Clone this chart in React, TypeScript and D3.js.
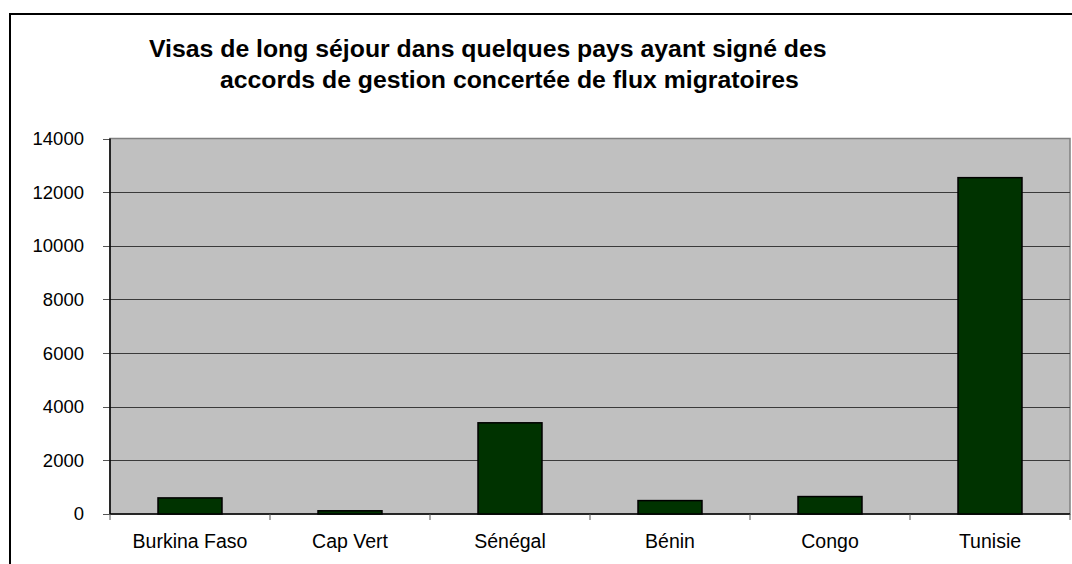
import React from "react";
import * as d3 from "d3";

const categories = ["Burkina Faso", "Cap Vert", "Sénégal", "Bénin", "Congo", "Tunisie"];
const values = [600, 120, 3400, 500, 650, 12540];
const yTicks = [0, 2000, 4000, 6000, 8000, 10000, 12000, 14000];
const titleLines = [
  "Visas de long séjour dans quelques pays ayant signé des",
  "accords de gestion concertée de flux migratoires",
];

export default function App() {
  const W = 1072, H = 564;
  const left = 110, right = 1070, top = 138.5, bottom = 514;
  const x = d3.scaleBand<string>().domain(categories).range([left, right]).paddingInner(0.6).paddingOuter(0.3);
  const y = d3.scaleLinear().domain([0, 14000]).range([bottom, top]);
  const step = x.step();
  const font = "'Liberation Sans', Arial, sans-serif";
  return (
    <svg width={W} height={H} style={{ position: "absolute", left: 0, top: 0, background: "#fff" }}>
      <rect x={10} y={14} width={1100} height={700} fill="#fff" stroke="#000" strokeWidth={2} />
      <text fontFamily={font} fontWeight="bold" fontSize={24.8} fill="#000">
        <tspan x={149} y={57}>{titleLines[0]}</tspan>
        <tspan x={220} y={88}>{titleLines[1]}</tspan>
      </text>
      <rect x={left} y={top} width={right - left} height={bottom - top} fill="#c0c0c0" stroke="#808080" strokeWidth={1.5} />
      {yTicks.map((t) => (
        <g key={t}>
          {t > 0 && t < 14000 && (
            <line x1={left} x2={right} y1={Math.round(y(t)) + 0.5} y2={Math.round(y(t)) + 0.5} stroke="#3a3a3a" strokeWidth={1} />
          )}
          <line x1={left - 7} x2={left} y1={Math.round(y(t)) + 0.5} y2={Math.round(y(t)) + 0.5} stroke="#555" strokeWidth={1} />
          <text x={84} y={y(t)} dy="0.35em" textAnchor="end" fontFamily={font} fontSize={18.5} fill="#000">{t}</text>
        </g>
      ))}
      <line x1={left} x2={left} y1={top} y2={bottom} stroke="#000" strokeWidth={1.5} />
      <line x1={left} x2={right} y1={bottom} y2={bottom} stroke="#000" strokeWidth={1.5} />
      {d3.range(categories.length + 1).map((i) => (
        <line key={i} x1={left + i * step} x2={left + i * step} y1={bottom} y2={bottom + 6} stroke="#555" strokeWidth={1} />
      ))}
      {categories.map((c, i) => (
        <g key={c}>
          <rect x={x(c)} y={y(values[i])} width={x.bandwidth()} height={bottom - y(values[i])} fill="#003300" stroke="#000" strokeWidth={1.5} />
          <text x={(x(c) as number) + x.bandwidth() / 2} y={548} textAnchor="middle" fontFamily={font} fontSize={19.5} fill="#000">{c}</text>
        </g>
      ))}
    </svg>
  );
}
